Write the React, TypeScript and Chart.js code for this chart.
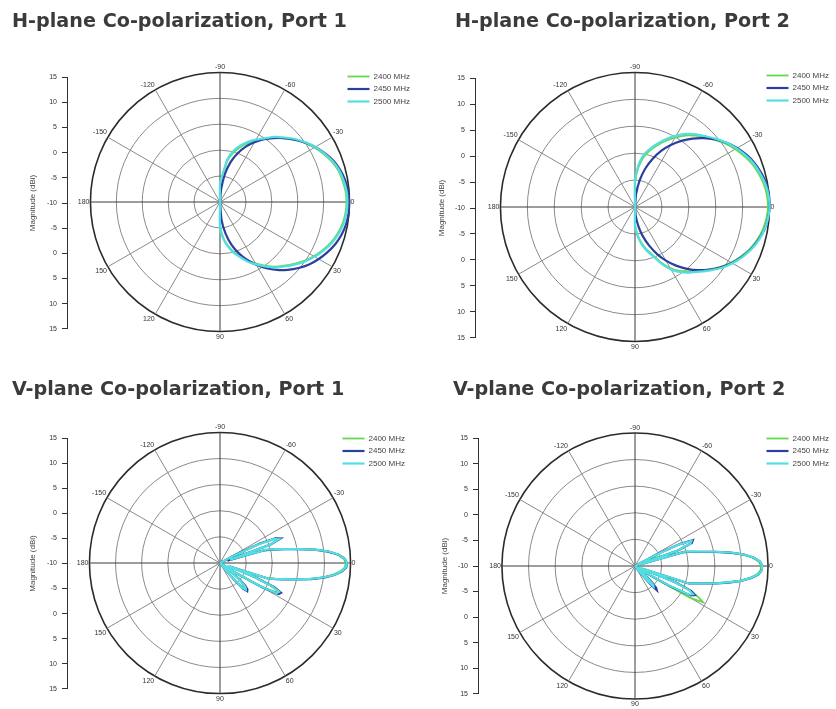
import React, { useEffect, useRef } from 'react';
import { Chart, registerables } from 'chart.js';

Chart.register(...registerables);

// ---------------- data ----------------
const SERIES_LABELS = ['2400 MHz', '2450 MHz', '2500 MHz'];
const SERIES_COLORS = ['#63d84f', '#2c3f9e', '#52dfe2'];
const SERIES_WIDTHS = [1.8, 2.2, 2.2];
const SERIES_ORDER = [2, 1, 0];

const Y_TICK_LABELS = ['15', '10', '5', '0', '-5', '-10', '-5', '0', '5', '10', '15'];
const AXIS_TITLE = 'Magnitude (dBi)';

const TITLES = [
  'H-plane Co-polarization, Port 1',
  'H-plane Co-polarization, Port 2',
  'V-plane Co-polarization, Port 1',
  'V-plane Co-polarization, Port 2',
];

// H-plane angles (deg), 5 deg step
const H_ANGLES = [-95, -90, -85, -80, -75, -70, -65, -60, -55, -50, -45, -40, -35, -30, -25, -20, -15, -10, -5, 0,
  5, 10, 15, 20, 25, 30, 35, 40, 45, 50, 55, 60, 65, 70, 75, 80, 85, 90, 95];

// V-plane angles (deg), 2 deg step
const V_ANGLES = [-60, -58, -56, -54, -52, -50, -48, -46, -44, -42, -40, -38, -36, -34, -32, -30, -28, -26, -24, -22,
  -20, -18, -16, -14, -12, -10, -8, -6, -4, -2, 0, 2, 4, 6, 8, 10, 12, 14, 16, 18, 20, 22, 24, 26, 28, 30, 32, 34,
  36, 38, 40, 42, 44, 46, 48, 50, 52, 54, 56, 58, 60];

// H-plane, Port 1 (dB)
const H1_2400 = [-10, -7.0, -5.3, -2.0, -0.2, 1.2, 2.5, 3.7, 4.8, 6.2, 7.4, 8.7, 9.9, 11.0, 12.0, 12.9, 13.6, 14.0, 14.3, 14.4,
  14.3, 14.0, 13.5, 12.8, 11.9, 10.9, 9.8, 8.6, 7.4, 6.3, 5.0, 3.7, 2.5, 1.1, -0.1, -1.5, -3.2, -5.6, -10];
const H1_2450 = [-10, -10, -7.5, -4.5, -2.0, 0.0, 1.8, 3.3, 4.8, 6.1, 7.4, 8.7, 10.0, 11.2, 12.3, 13.3, 14.0, 14.5, 14.8, 14.9,
  14.9, 14.7, 14.3, 13.7, 12.9, 12.0, 11.0, 9.8, 8.5, 7.1, 5.6, 4.0, 2.3, 0.5, -1.5, -3.8, -6.5, -10, -10];
const H1_2500 = [-10, -6.5, -4.8, -1.5, 0.3, 1.6, 2.8, 3.9, 5.0, 6.4, 7.6, 8.9, 10.1, 11.2, 12.2, 13.1, 13.8, 14.2, 14.5, 14.6,
  14.5, 14.2, 13.7, 13.0, 12.1, 11.1, 10.0, 8.8, 7.6, 6.5, 5.2, 3.9, 2.7, 1.3, 0.1, -1.3, -2.9, -5.2, -10];

// H-plane, Port 2 (dB)
const H2_2400 = [-10, -5.6, -2.6, -0.5, 0.9, 2.2, 3.6, 4.9, 6.2, 7.3, 8.3, 9.4, 10.5, 11.5, 12.4, 13.2, 13.8, 14.3, 14.6, 14.7,
  14.5, 14.1, 13.5, 12.7, 11.7, 10.6, 9.4, 8.0, 6.7, 5.6, 4.5, 3.1, 1.3, -0.6, -1.9, -3.3, -4.9, -6.8, -10];
const H2_2450 = [-10, -10, -7.5, -5.0, -2.6, -0.5, 1.5, 3.3, 5.0, 6.6, 8.1, 9.5, 10.8, 11.9, 12.9, 13.7, 14.3, 14.8, 15.0, 15.0,
  14.8, 14.4, 13.7, 12.9, 11.9, 10.8, 9.5, 8.1, 6.6, 5.0, 3.3, 1.5, -0.4, -2.4, -4.4, -6.4, -8.3, -10, -10];
const H2_2500 = [-10, -5.0, -2.0, 0.0, 1.3, 2.6, 4.0, 5.3, 6.6, 7.6, 8.6, 9.7, 10.8, 11.8, 12.7, 13.5, 14.1, 14.6, 14.9, 15.0,
  14.8, 14.4, 13.8, 13.0, 12.0, 10.9, 9.7, 8.3, 7.0, 5.9, 4.8, 3.4, 1.6, -0.3, -1.6, -3.0, -4.6, -6.5, -10];

// V-plane, Port 1 (dB)
const V1_2400 = [-10, -10, -10, -10, -10, -10, -10, -10, -10, -10, -10, -10, -10, -10, -10,
  -10, -10, -9.0, -7.5, -6.0, -5.0, -4.0, -1.5, 0.6, 2.7, 5.2, 8.3, 10.8, 12.6, 13.7, 14.1,
  13.9, 13.1, 11.7, 9.8, 7.4, 4.8, 2.6, 0.9, -0.6, -7.5, -3.5, 0.5, 2.2, 1.9, -1.5, -7.0, -10, -10,
  -8.5, -6.0, -4.5, -3.7, -3.4, -4.2, -7.0, -10, -10, -10, -10, -10];
const V1_2450 = [-10, -10, -10, -10, -10, -10, -10, -10, -10, -10, -10, -10, -10, -10, -10,
  -10, -6.5, -1.5, 1.6, 2.5, 0.3, -8.5, -1.0, 0.8, 2.7, 5.2, 8.3, 10.9, 12.8, 13.9, 14.3,
  14.2, 13.4, 12.0, 10.1, 7.7, 5.1, 2.9, 1.2, -0.4, -8.0, -2.6, 1.4, 3.0, 2.7, -0.6, -6.0, -10, -10,
  -7.6, -5.0, -3.5, -2.7, -2.5, -3.4, -6.0, -9.3, -10, -10, -10, -10];
const V1_2500 = [-10, -10, -10, -10, -10, -10, -10, -10, -10, -10, -10, -10, -10, -10, -10,
  -10, -7.0, -2.0, 1.2, 2.1, 0.0, -8.0, -0.8, 1.0, 2.9, 5.4, 8.5, 11.0, 12.8, 13.9, 14.3,
  14.1, 13.3, 11.9, 10.0, 7.6, 5.0, 2.8, 1.1, -0.3, -8.5, -3.0, 1.0, 2.6, 2.3, -1.0, -6.5, -10, -10,
  -8.0, -5.5, -4.0, -3.2, -2.9, -3.8, -6.5, -9.5, -10, -10, -10, -10];

// V-plane, Port 2 (dB)
const V2_2400 = [-10, -10, -10, -10, -10, -10, -10, -10, -10, -10, -10, -10, -10, -10, -10,
  -10, -10, -8.5, -7.0, -5.5, -4.5, -3.5, -1.0, 0.9, 2.7, 5.2, 8.0, 10.4, 12.2, 13.3, 13.7,
  13.6, 12.9, 11.6, 9.8, 7.6, 5.4, 3.2, 1.6, 0.2, -8.0, -2.5, 1.5, 3.2, 4.5, 2.0, -6.0, -10, -10,
  -10, -9.5, -8.0, -7.0, -6.0, -5.8, -7.5, -10, -10, -10, -10, -10];
const V2_2450 = [-10, -10, -10, -10, -10, -10, -10, -10, -10, -10, -10, -10, -10, -10, -10,
  -10, -5.0, -0.5, 1.9, 1.5, -1.2, -9.0, -0.4, 1.0, 2.8, 5.3, 8.1, 10.6, 12.4, 13.5, 13.9,
  13.8, 13.2, 11.9, 10.1, 7.9, 5.7, 3.5, 1.9, 0.6, -8.5, -1.6, 1.6, 2.5, 1.8, -2.6, -8.0, -10, -10,
  -10, -8.5, -6.8, -5.5, -4.3, -3.9, -5.5, -8.5, -10, -10, -10, -10];
const V2_2500 = [-10, -10, -10, -10, -10, -10, -10, -10, -10, -10, -10, -10, -10, -10, -10,
  -10, -5.5, -0.8, 1.6, 1.2, -1.5, -9.0, -0.3, 1.1, 2.9, 5.4, 8.2, 10.6, 12.4, 13.5, 13.9,
  13.8, 13.1, 11.8, 10.0, 7.8, 5.6, 3.4, 1.8, 0.5, -9.0, -2.0, 1.2, 2.1, 1.5, -3.0, -8.5, -10, -10,
  -10, -9.0, -7.5, -6.5, -5.0, -4.8, -6.5, -9.0, -10, -10, -10, -10];

// ---------------- layout / style ----------------
const TITLE_FONT = "'DejaVu Sans', sans-serif";
const SMALL_FONT = "'Liberation Sans', Arial, sans-serif";

type Box = { x: number; y: number; w: number; h: number };
type PanelDef = {
  title: string;
  angles: number[];
  series: number[][];
  tension: number;
  radar: Box;
  titlePad: [number, number];
  axis: Box;
  axisTitlePad: number;
  legend: Box;
};

const PANELS: PanelDef[] = [
  {
    title: TITLES[0], angles: H_ANGLES, series: [H1_2400, H1_2450, H1_2500], tension: 0.2,
    radar: { x: 12, y: 0, w: 416, h: 341 }, titlePad: [10.5, 29.5],
    axis: { x: 12, y: 68, w: 60, h: 270 }, axisTitlePad: 16,
    legend: { x: 343, y: 68, w: 200, h: 50 },
  },
  {
    title: TITLES[1], angles: H_ANGLES, series: [H2_2400, H2_2450, H2_2500], tension: 0.2,
    radar: { x: 455, y: 0, w: 360, h: 351 }, titlePad: [10.5, 29.5],
    axis: { x: 420, y: 69, w: 60, h: 278 }, axisTitlePad: 17,
    legend: { x: 762, y: 67, w: 200, h: 50 },
  },
  {
    title: TITLES[2], angles: V_ANGLES, series: [V1_2400, V1_2450, V1_2500], tension: 0,
    radar: { x: 12, y: 368, w: 416, h: 335 }, titlePad: [10.5, 21.5],
    axis: { x: 12, y: 429, w: 60, h: 269 }, axisTitlePad: 16,
    legend: { x: 338, y: 430, w: 200, h: 50 },
  },
  {
    title: TITLES[3], angles: V_ANGLES, series: [V2_2400, V2_2450, V2_2500], tension: 0,
    radar: { x: 453, y: 368, w: 364, h: 342 }, titlePad: [10.5, 22],
    axis: { x: 423, y: 429, w: 60, h: 274 }, axisTitlePad: 17,
    legend: { x: 762, y: 430, w: 200, h: 50 },
  },
];

function ring(angles: number[]): number[] {
  const step = angles[1] - angles[0];
  const n = Math.round(360 / step);
  return Array.from({ length: n }, (_, i) => angles[0] + i * step);
}
function norm(a: number): number {
  let v = ((a % 360) + 360) % 360;
  if (v > 180) v -= 360;
  return v;
}

function radarConfig(p: PanelDef): any {
  const ringAngles = ring(p.angles);
  return {
    type: 'radar',
    data: {
      labels: ringAngles.map(String),
      datasets: p.series.map((d, k) => ({
        label: SERIES_LABELS[k],
        data: d,
        borderColor: SERIES_COLORS[k],
        backgroundColor: SERIES_COLORS[k],
        borderWidth: SERIES_WIDTHS[k],
        pointRadius: 0,
        pointHoverRadius: 0,
        fill: false,
        order: SERIES_ORDER[k],
        tension: p.tension,
      })),
    },
    options: {
      responsive: false,
      animation: false,
      events: [],
      layout: { padding: 0 },
      plugins: {
        legend: { display: false },
        tooltip: { enabled: false },
        title: {
          display: true,
          text: p.title,
          align: 'start',
          color: '#3b3b3b',
          font: { family: TITLE_FONT, size: 19.2, weight: 'bold' },
          padding: { top: p.titlePad[0], bottom: p.titlePad[1] },
        },
      },
      scales: {
        r: {
          min: -10,
          max: 15,
          startAngle: p.angles[0] + 90,
          ticks: { display: false, stepSize: 5 },
          grid: {
            circular: true,
            color: (c: any) => (c.tick && c.tick.value === 15 ? '#2b2b2b' : '#8a8a8a'),
            lineWidth: (c: any) => (c.tick && c.tick.value === 15 ? 1.6 : 1),
          },
          angleLines: {
            color: (c: any) => (norm(ringAngles[c.index]) % 90 === 0 ? '#3a3a3a' : '#8a8a8a'),
            lineWidth: (c: any) => (norm(ringAngles[c.index]) % 30 === 0 ? 1 : 0),
          },
          pointLabels: {
            padding: 1,
            color: '#333',
            font: { family: SMALL_FONT, size: 7 },
            callback: (_l: any, i: number) => {
              const a = norm(ringAngles[i]);
              return a % 30 === 0 ? String(a) : '';
            },
          },
        },
      },
    },
  };
}

function axisConfig(p: PanelDef): any {
  return {
    type: 'line',
    data: { labels: [], datasets: [] },
    options: {
      responsive: false,
      animation: false,
      events: [],
      layout: { padding: { top: 6, bottom: 6, left: 0, right: 0 } },
      plugins: { legend: { display: false }, tooltip: { enabled: false }, title: { display: false } },
      scales: {
        x: { display: false },
        y: {
          type: 'linear',
          position: 'left',
          min: -35,
          max: 15,
          afterFit: (s: any) => { s.width = 55; },
          ticks: {
            stepSize: 5,
            color: '#333',
            padding: 5,
            font: { family: SMALL_FONT, size: 7 },
            callback: (_v: any, i: number) => Y_TICK_LABELS[Y_TICK_LABELS.length - 1 - i],
          },
          grid: { drawOnChartArea: false, drawTicks: true, tickLength: 5, color: '#333' },
          border: { display: true, color: '#333', width: 1 },
          title: {
            display: true,
            text: AXIS_TITLE,
            color: '#444',
            font: { family: SMALL_FONT, size: 8 },
            padding: { top: p.axisTitlePad, bottom: 0 },
          },
        },
      },
    },
  };
}

function legendConfig(): any {
  return {
    type: 'line',
    data: {
      labels: [],
      datasets: SERIES_LABELS.map((l, k) => ({
        label: l,
        data: [],
        borderColor: SERIES_COLORS[k],
        backgroundColor: SERIES_COLORS[k],
        borderWidth: SERIES_WIDTHS[k],
      })),
    },
    options: {
      responsive: false,
      animation: false,
      events: [],
      layout: { padding: 0 },
      plugins: {
        tooltip: { enabled: false },
        title: { display: false },
        legend: {
          position: 'left',
          align: 'start',
          labels: {
            usePointStyle: true,
            pointStyle: 'line',
            pointStyleWidth: 22,
            boxHeight: 8,
            padding: 4.5,
            color: '#444',
            font: { family: SMALL_FONT, size: 8 },
          },
        },
      },
      scales: { x: { display: false }, y: { display: false } },
    },
  };
}

function ChartCanvas({ box, make }: { box: Box; make: () => any }) {
  const ref = useRef<HTMLCanvasElement | null>(null);
  useEffect(() => {
    const chart = new Chart(ref.current as HTMLCanvasElement, make());
    return () => chart.destroy();
  }, []);
  return (
    <canvas
      ref={ref}
      width={box.w}
      height={box.h}
      style={{ position: 'absolute', left: box.x, top: box.y, width: box.w, height: box.h }}
    />
  );
}

function Panel({ p }: { p: PanelDef }) {
  return (
    <>
      <ChartCanvas box={p.radar} make={() => radarConfig(p)} />
      <ChartCanvas box={p.axis} make={() => axisConfig(p)} />
      <ChartCanvas box={p.legend} make={() => legendConfig()} />
    </>
  );
}

export default function App() {
  return (
    <div
      style={{
        position: 'absolute',
        left: 0,
        top: 0,
        width: 836,
        height: 709,
        overflow: 'hidden',
        background: '#ffffff',
      }}
    >
      {PANELS.map((p, i) => (
        <Panel key={i} p={p} />
      ))}
    </div>
  );
}
